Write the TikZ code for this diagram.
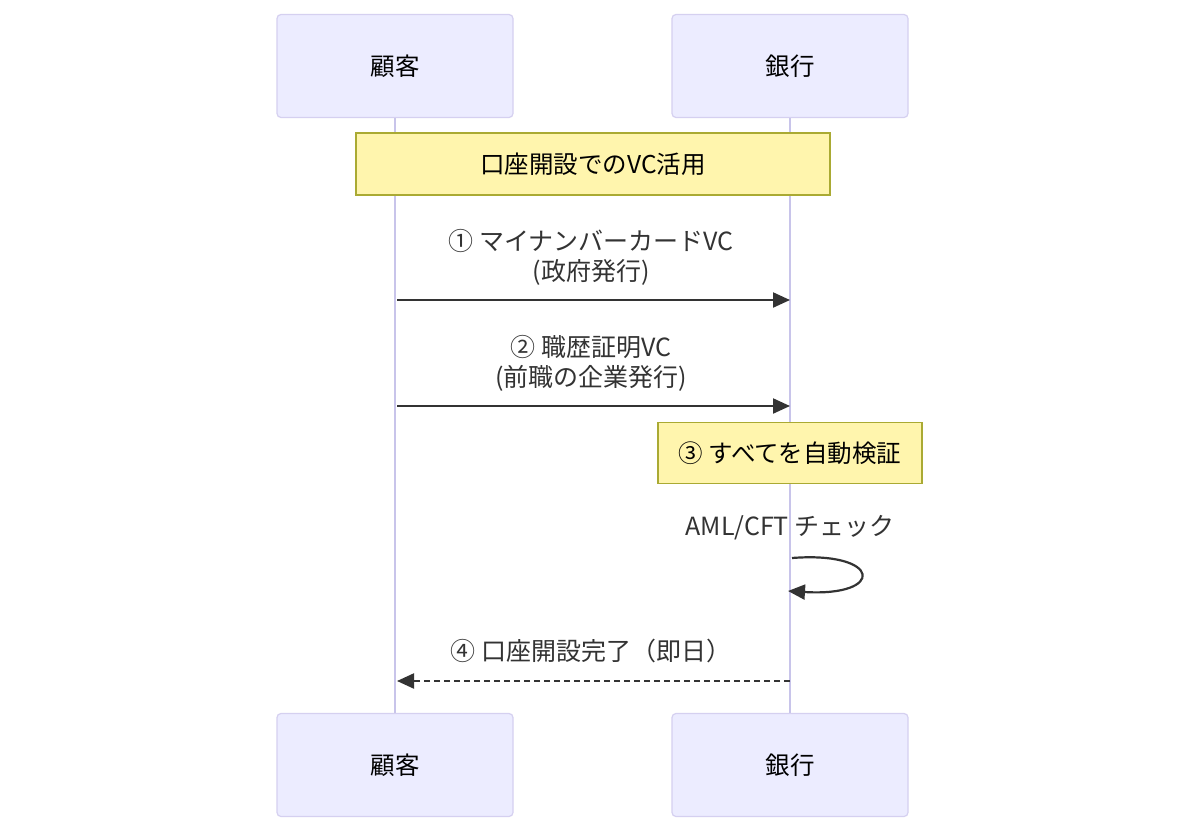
\documentclass[tikz,border=0pt]{standalone}
\usepackage{fontspec}
\setmainfont{Noto Sans CJK JP}
\usepackage{tikz}
\usetikzlibrary{arrows.meta}

\definecolor{actorfill}{HTML}{ECECFF}
\definecolor{actorline}{HTML}{D5D0F0}
\definecolor{lifeline}{HTML}{C8C4EA}
\definecolor{notefill}{HTML}{FFF5AD}
\definecolor{noteline}{HTML}{AAAA33}
\definecolor{ink}{HTML}{333333}

\tikzset{
  actorbox/.style={draw=actorline,fill=actorfill,line width=1.2pt,rounded corners=4pt,
    minimum width=236pt,minimum height=103pt,inner sep=0pt,font=\fontsize{24.5}{28}\selectfont,text=black},
  notebox/.style={draw=noteline,fill=notefill,line width=1.2pt,inner sep=0pt,
    font=\fontsize{24.5}{28}\selectfont,text=black},
  msglabel/.style={align=center,font=\fontsize{25}{30}\selectfont,text=ink,inner sep=0pt},
  lifeline/.style={draw=lifeline,line width=2.4pt},
  msg/.style={draw=ink,line width=2.2pt,-{Triangle[length=17pt,width=15pt]}},
  reply/.style={msg,dash pattern=on 6pt off 4pt}
}

\begin{document}
\begin{tikzpicture}[x=1pt,y=-1pt]
\useasboundingbox[fill=white](0,0) rectangle (1200,833);
% lifelines
\coordinate (kt) at (395,118);\coordinate (kb) at (395,713);
\coordinate (gt) at (790,118);\coordinate (gb) at (790,713);
\draw[lifeline](kt)--(kb);
\draw[lifeline](gt)--(gb);
% actors
\node[actorbox](kokyaku) at (395,66){顧客};
\node[actorbox](ginko) at (790,66){銀行};
\node[actorbox](kokyakuB) at (395,765){顧客};
\node[actorbox](ginkoB) at (790,765){銀行};
% title note
\node[notebox,minimum width=474pt,minimum height=62pt](title) at (593,164){口座開設でのVC活用};
% message 1
\node[msglabel](m1) at (591,257){① マイナンバーカードVC\\(政府発行)};
\coordinate (a1) at (397,300);\coordinate (b1) at (790,300);
\draw[msg](a1)--(b1);
% message 2
\node[msglabel](m2) at (591,363){② 職歴証明VC\\(前職の企業発行)};
\coordinate (a2) at (397,406);\coordinate (b2) at (790,406);
\draw[msg](a2)--(b2);
% note 3
\node[notebox,minimum width=264pt,minimum height=61pt](verify) at (790,453){③ すべてを自動検証};
% self check
\node[msglabel](aml) at (790,528){AML/CFT チェック};
\coordinate (s1) at (792,558);\coordinate (s2) at (788,591);
\draw[msg](s1) .. controls (882,551) and (886,597) .. (s2);
% reply 4
\node[msglabel](m4) at (591,651){④ 口座開設完了（即日）};
\coordinate (a4) at (790,681);\coordinate (b4) at (397,681);
\draw[reply](a4)--(b4);
\end{tikzpicture}
\end{document}
